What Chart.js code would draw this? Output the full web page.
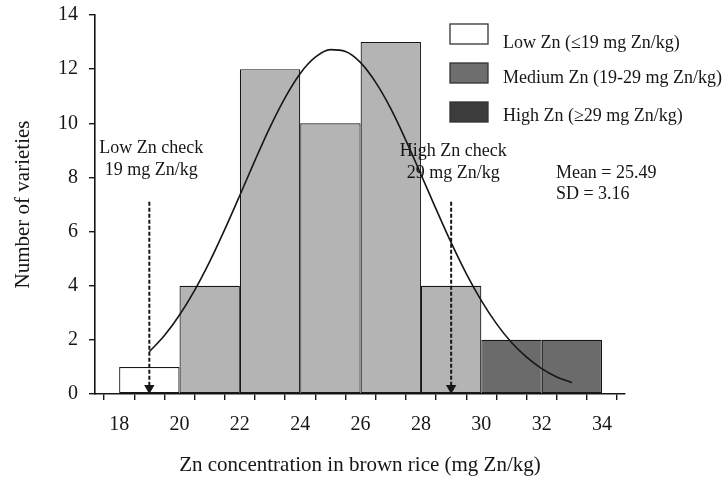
<!DOCTYPE html>
<html><head><meta charset="utf-8">
<script src="https://cdn.jsdelivr.net/npm/chart.js@4/dist/chart.umd.min.js"></script>
<style>html,body{margin:0;padding:0;background:#fff}#wrap{width:724px;height:478px}</style>
</head><body><div id="wrap"><canvas id="c" width="724" height="478"></canvas></div>
<script>
// ---- data ----
const binCenters = [19, 21, 23, 25, 27, 29, 31, 33];
const binCounts  = [1, 4, 12, 10, 13, 4, 2, 2];
const binClass   = ['low', 'mid', 'mid', 'mid', 'mid', 'mid', 'high', 'high'];
const curveX = [19, 19.5, 20, 20.5, 21, 21.5, 22, 22.5, 23, 23.5, 24, 24.5, 25, 25.5, 26, 26.5, 27, 27.5, 28, 28.5, 29, 29.5, 30, 30.5, 31, 31.5, 32, 32.5, 33];
const curveY = [1.56, 2.16, 2.92, 3.83, 4.89, 6.08, 7.34, 8.63, 9.86, 10.95, 11.84, 12.44, 12.72, 12.65, 12.24, 11.51, 10.54, 9.37, 8.11, 6.83, 5.59, 4.45, 3.45, 2.60, 1.90, 1.36, 0.94, 0.63, 0.42];
const checkValues = [19, 29];
const checkTop = 7.1;
const checkTip = 0.22;
const checkLabels = [['Low Zn check', '19 mg Zn/kg'], ['High Zn check', '29 mg Zn/kg']];
const statsLines = ['Mean = 25.49', 'SD = 3.16'];
const legendLabels = ['Low Zn (\u226419 mg Zn/kg)', 'Medium Zn (19-29 mg Zn/kg)', 'High Zn (\u226529 mg Zn/kg)'];
const xTickLabels = [18, 20, 22, 24, 26, 28, 30, 32, 34];
const yTickLabels = [0, 2, 4, 6, 8, 10, 12, 14];
const xTitle = 'Zn concentration in brown rice (mg Zn/kg)';
const yTitle = 'Number of varieties';

// ---- styles ----
const FONT = "'Liberation Serif', 'Times New Roman', serif";
const INK = '#161616';
const barFill = { low: '#ffffff', mid: '#b4b4b4', high: '#6b6b6b' };
const legendFill = ['#ffffff', '#6e6e6e', '#3c3c3c'];

const datasets = [];
checkValues.forEach(v => {
  datasets.push({
    type: 'line',
    data: [{ x: v, y: checkTop }, { x: v, y: checkTip }],
    borderColor: INK, borderWidth: 2, borderDash: [4, 2],
    pointRadius: [0, 6], pointStyle: 'triangle', pointRotation: 180,
    pointBackgroundColor: INK, pointBorderColor: INK, pointBorderWidth: 0,
    order: 0
  });
});
datasets.push({
  type: 'line',
  data: curveX.map((x, i) => ({ x, y: curveY[i] })),
  borderColor: INK, borderWidth: 1.6, pointRadius: 0, tension: 0.4,
  cubicInterpolationMode: 'monotone', order: 1
});
datasets.push({
  type: 'bar',
  data: binCenters.map((x, i) => ({ x, y: binCounts[i] })),
  backgroundColor: binClass.map(c => barFill[c]),
  borderColor: INK, borderWidth: 1.2, borderSkipped: false,
  barPercentage: 2, categoryPercentage: 1, order: 10
});

const annot = {
  id: 'annot',
  afterDatasetsDraw(chart) {
    const { ctx, scales: { x, y } } = chart;
    ctx.save();
    ctx.fillStyle = INK;
    ctx.font = '18px ' + FONT;
    ctx.textBaseline = 'middle';
    ctx.textAlign = 'center';
    const rows = [[9.09, 8.27], [8.98, 8.16]];
    checkLabels.forEach((lines, k) => {
      lines.forEach((t, j) => ctx.fillText(t, x.getPixelForValue(checkValues[k]) + 2, y.getPixelForValue(rows[k][j])));
    });
    ctx.textAlign = 'left';
    const sy = [8.16, 7.39];
    statsLines.forEach((t, j) => ctx.fillText(t, x.getPixelForValue(32.47), y.getPixelForValue(sy[j])));
    const boxY = [24, 63, 102];
    const baseY = [47.5, 83, 120.5];
    legendLabels.forEach((t, i) => {
      ctx.fillStyle = legendFill[i];
      ctx.fillRect(450, boxY[i], 38, 20);
      ctx.strokeStyle = '#333';
      ctx.lineWidth = 1.3;
      ctx.strokeRect(450, boxY[i], 38, 20);
      ctx.fillStyle = INK;
      ctx.textBaseline = 'alphabetic';
      ctx.fillText(t, 503, baseY[i]);
    });
    ctx.restore();
  }
};

new Chart(document.getElementById('c'), {
  data: { datasets },
  options: {
    responsive: false, animation: false, devicePixelRatio: 1,
    layout: { padding: { top: 15, right: 99, left: 0, bottom: 0 } },
    plugins: { legend: { display: false }, tooltip: { enabled: false } },
    scales: {
      x: {
        type: 'linear', offset: false, min: 17.2, max: 34.76,
        afterFit(s) { s.height = 84; s.paddingLeft = 0; s.paddingRight = 0; },
        border: { display: true, color: INK, width: 1.6 },
        grid: { display: true, drawOnChartArea: false, drawTicks: true, tickLength: 6, color: INK, lineWidth: 1.4 },
        ticks: {
          stepSize: 1, includeBounds: false, autoSkip: false, maxRotation: 0, padding: 13,
          color: INK, font: { family: FONT, size: 20 },
          callback: v => xTickLabels.includes(v) ? String(v) : ''
        },
        title: { display: true, text: xTitle, color: INK, font: { family: FONT, size: 21 }, padding: { top: 0, bottom: 0 } }
      },
      y: {
        min: 0, max: 14,
        afterFit(s) { s.width = 95; s.paddingTop = 0; s.paddingBottom = 0; },
        border: { display: true, color: INK, width: 1.6 },
        grid: { display: true, drawOnChartArea: false, drawTicks: true, tickLength: 6, color: INK, lineWidth: 1.4 },
        ticks: {
          stepSize: 2, padding: 11, color: INK, font: { family: FONT, size: 20 },
          callback: v => yTickLabels.includes(v) ? String(v) : ''
        },
        title: { display: true, text: yTitle, color: INK, font: { family: FONT, size: 21 }, padding: { top: 11, bottom: 0 } }
      }
    }
  },
  plugins: [annot]
});
</script></body></html>
